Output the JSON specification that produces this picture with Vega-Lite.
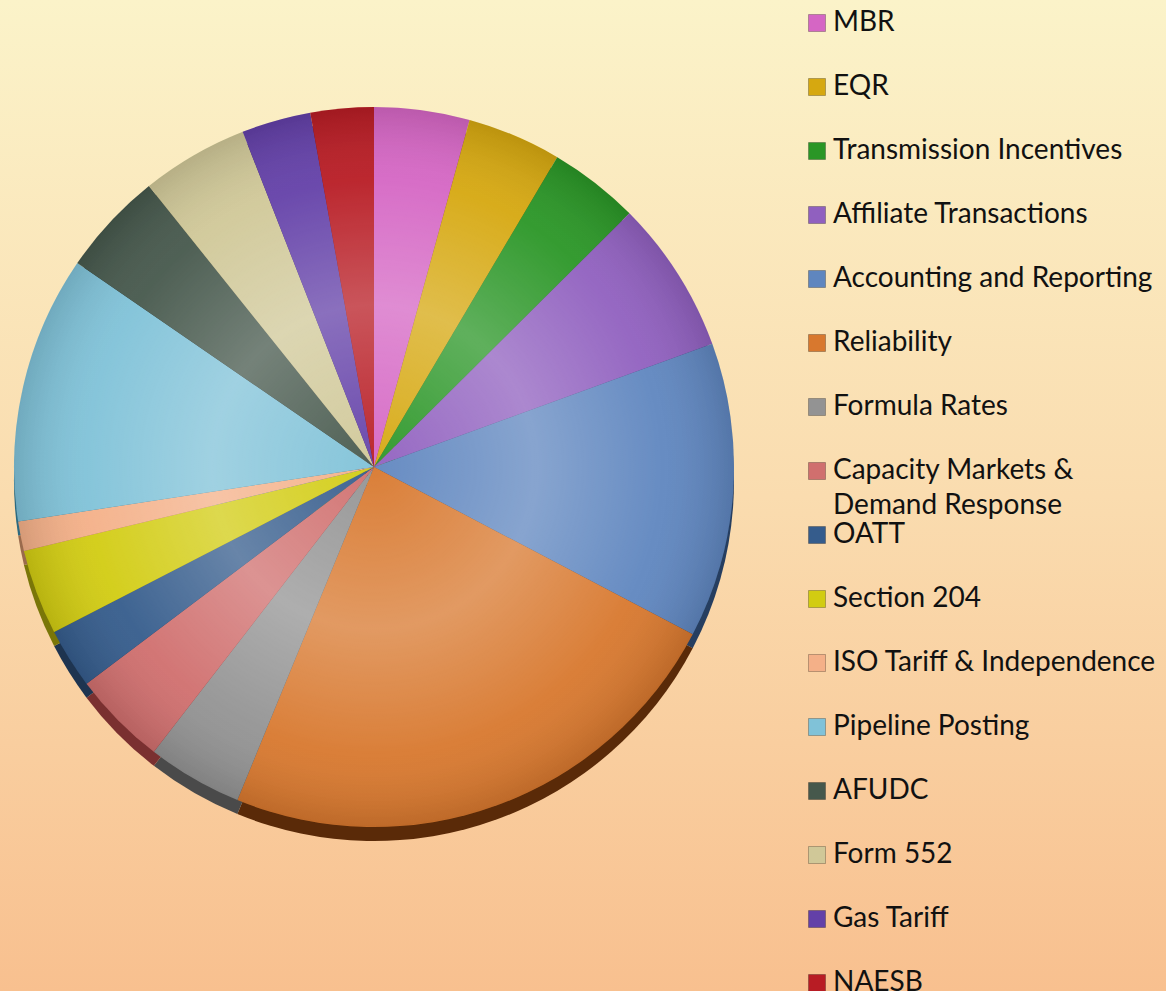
{
  "$schema": "https://vega.github.io/schema/vega-lite/v6.json",
  "width": 1166,
  "height": 991,
  "autosize": {"type": "none"},
  "padding": 0,
  "background": "#FADDB0",
  "config": {"view": {"stroke": null}},
  "data": {
    "values": [
      {"idx": 1, "cat": "MBR", "value": 15.4},
      {"idx": 2, "cat": "EQR", "value": 15.2},
      {"idx": 3, "cat": "Transmission Incentives", "value": 14.6},
      {"idx": 4, "cat": "Affiliate Transactions", "value": 24.8},
      {"idx": 5, "cat": "Accounting and Reporting", "value": 47.7},
      {"idx": 6, "cat": "Reliability", "value": 84.6},
      {"idx": 7, "cat": "Formula Rates", "value": 15.4},
      {"idx": 8, "cat": "Capacity Markets & Demand Response", "value": 15.3},
      {"idx": 9, "cat": "OATT", "value": 9.7},
      {"idx": 10, "cat": "Section 204", "value": 13.8},
      {"idx": 11, "cat": "ISO Tariff & Independence", "value": 4.8},
      {"idx": 12, "cat": "Pipeline Posting", "value": 43.2},
      {"idx": 13, "cat": "AFUDC", "value": 16.8},
      {"idx": 14, "cat": "Form 552", "value": 17.3},
      {"idx": 15, "cat": "Gas Tariff", "value": 11.2},
      {"idx": 16, "cat": "NAESB", "value": 10.2}
    ]
  },
  "layer": [
    {
      "transform": [{"aggregate": [{"op": "sum", "field": "value", "as": "total"}]}],
      "mark": {
        "type": "rect",
        "color": {
          "gradient": "linear", "x1": 0, "y1": 0, "x2": 0, "y2": 1,
          "stops": [
            {"offset": 0, "color": "#FBF3C9"},
            {"offset": 0.5, "color": "#FADCAF"},
            {"offset": 1, "color": "#F8C08F"}
          ]
        }
      },
      "encoding": {}
    },
    {
      "mark": {"type": "arc", "x": 374, "y": 467, "outerRadius": 360, "yOffset": 14},
      "encoding": {
        "theta": {"field": "value", "type": "quantitative", "stack": true},
        "order": {"field": "idx", "type": "quantitative"},
        "fill": {
          "field": "idx", "type": "ordinal", "legend": null,
          "scale": {
            "domain": [1, 2, 3, 4, 5, 6, 7, 8, 9, 10, 11, 12, 13, 14, 15, 16],
            "range": ["#7A2C68", "#7A5E08", "#145414", "#4E2C6E", "#263E60", "#5A2A08", "#4A4A4A", "#7A3030", "#1E3450", "#7A7608", "#9A6A4C", "#2C6A80", "#222E28", "#7A7454", "#36205E", "#6A0E14"]
          }
        }
      }
    },
    {
      "mark": {"type": "arc", "x": 374, "y": 467, "outerRadius": 360},
      "encoding": {
        "theta": {"field": "value", "type": "quantitative", "stack": true},
        "order": {"field": "idx", "type": "quantitative"},
        "color": {
          "field": "cat", "type": "nominal",
          "scale": {
            "domain": ["MBR", "EQR", "Transmission Incentives", "Affiliate Transactions", "Accounting and Reporting", "Reliability", "Formula Rates", "Capacity Markets & Demand Response", "OATT", "Section 204", "ISO Tariff & Independence", "Pipeline Posting", "AFUDC", "Form 552", "Gas Tariff", "NAESB"],
            "range": ["#D566C4", "#D6A810", "#2A9626", "#9060BF", "#5F86BF", "#D8782E", "#939393", "#D06F6E", "#355C8C", "#D2CC12", "#F4B088", "#80C2D8", "#46584C", "#D0C898", "#6340A8", "#B81C24"]
          },
          "legend": {
            "title": null,
            "orient": "none",
            "legendX": 803,
            "legendY": 2,
            "padding": 0,
            "symbolType": "square",
            "symbolSize": 289,
            "symbolStrokeWidth": 1,
            "symbolStrokeColor": "rgba(0,0,0,0.25)",
            "symbolOpacity": 1,
            "labelFont": "Lato",
            "labelFontSize": 28,
            "labelColor": "#111111",
            "labelOffset": 2,
            "labelLimit": 400,
            "rowPadding": 22,
            "clipHeight": 42,
            "labelExpr": "datum.label == 'Capacity Markets & Demand Response' ? ['Demand Response', 'Capacity Markets &'] : datum.label",
            "encode": {
              "labels": {
                "update": {
                  "dy": {"signal": "datum.value == 'Capacity Markets & Demand Response' ? 35 : 0"},
                  "lineHeight": {"value": -35}
                }
              }
            }
          }
        }
      }
    },
    {
      "transform": [{"aggregate": [{"op": "sum", "field": "value", "as": "total"}]}],
      "mark": {
        "type": "arc", "x": 374, "y": 467, "outerRadius": 360,
        "fill": {
          "gradient": "radial", "x1": 0.5, "y1": 0.5, "r1": 0, "x2": 0.5, "y2": 0.5, "r2": 0.5,
          "stops": [
            {"offset": 0, "color": "rgba(255,255,255,0.05)"},
            {"offset": 0.45, "color": "rgba(255,255,255,0.25)"},
            {"offset": 0.8, "color": "rgba(255,255,255,0.05)"},
            {"offset": 1, "color": "rgba(0,0,0,0.12)"}
          ]
        }
      },
      "encoding": {
        "theta": {"field": "total", "type": "quantitative"}
      }
    }
  ]
}
